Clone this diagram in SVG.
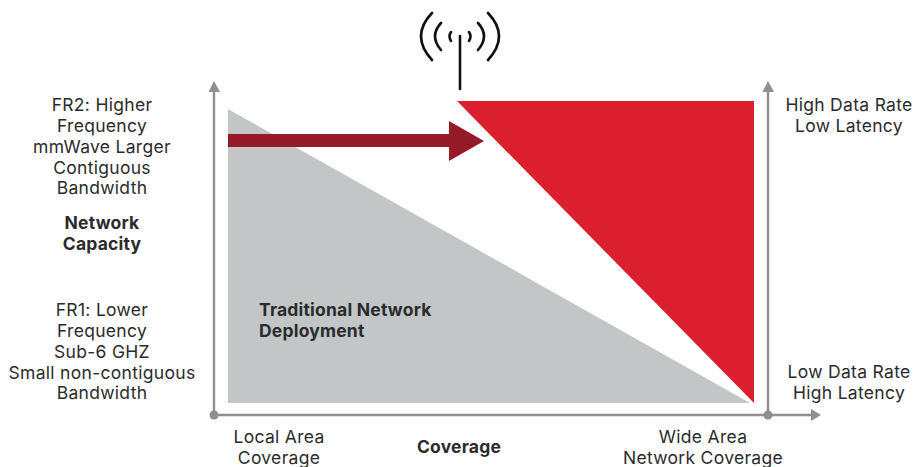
<svg xmlns="http://www.w3.org/2000/svg" width="915" height="467" viewBox="0 0 915 467">
<style>
text{font-family:"Inter","Open Sans","Liberation Sans",sans-serif;font-size:17.5px;letter-spacing:.3px;fill:#2b2b2d;text-anchor:middle}
.b{font-weight:700;letter-spacing:.2px}
.l{text-anchor:start}
.ax{stroke:#8e8f90;stroke-width:2.4;fill:none}
.ah{fill:#8e8f90}
.ant{stroke:#111;stroke-width:2.6;fill:none;stroke-linecap:round}
</style>
<rect width="915" height="467" fill="#fff"/>
<g id="traditional-deployment"><polygon points="228,109 228,403 750,403" fill="#c2c6c6"/>
<text class="b l" x="259" y="316">Traditional Network</text><text class="b l" x="259" y="337">Deployment</text></g>
<g id="new-deployment"><polygon points="457,101 754,101 754,403" fill="#dc1f2e"/></g>
<g id="connectors">
<path class="ax" d="M214,415V90M768,415V90M214,415H813"/>
<polygon class="ah" points="214,81 220,92 208.500,92"/>
<polygon class="ah" points="768,81 774,92 762.500,92"/>
<polygon class="ah" points="821,415 811,409 811,421"/>
<circle class="ah" cx="214" cy="415" r="4.500"/>
<circle class="ah" cx="768" cy="415" r="4.500"/>
<polygon points="228,134 449,134 449,121 484,141 449,161 449,147 228,147" fill="#961a27"/>
</g>
<g id="antenna">
<path class="ant" d="M460,36V89M432,13Q410,36 432,60M441,23Q429,36 441,50M451,32Q448,36 451,41M488,13Q510,36 488,60M478,23Q490,36 478,50M469,32Q472,36 469,41"/>
</g>
<g id="fr2-label"><text x="102" y="111">FR2: Higher</text><text x="102" y="132">Frequency</text><text x="102" y="153">mmWave Larger</text><text x="102" y="174">Contiguous</text><text x="102" y="194">Bandwidth</text></g>
<g id="capacity-label"><text class="b" x="102" y="229">Network</text><text class="b" x="102" y="250">Capacity</text></g>
<g id="fr1-label"><text x="102" y="316">FR1: Lower</text><text x="102" y="337">Frequency</text><text x="102" y="358">Sub-6 GHZ</text><text x="102" y="379">Small non-contiguous</text><text x="102" y="399">Bandwidth</text></g>
<g id="high-label"><text x="849" y="111">High Data Rate</text><text x="849" y="132">Low Latency</text></g>
<g id="low-label"><text x="849" y="378">Low Data Rate</text><text x="849" y="399">High Latency</text></g>
<g id="local-label"><text x="279" y="443">Local Area</text><text x="279" y="464">Coverage</text></g>
<g id="coverage-label"><text class="b" x="459" y="453">Coverage</text></g>
<g id="wide-label"><text x="703" y="443">Wide Area</text><text x="703" y="464">Network Coverage</text></g>
</svg>
